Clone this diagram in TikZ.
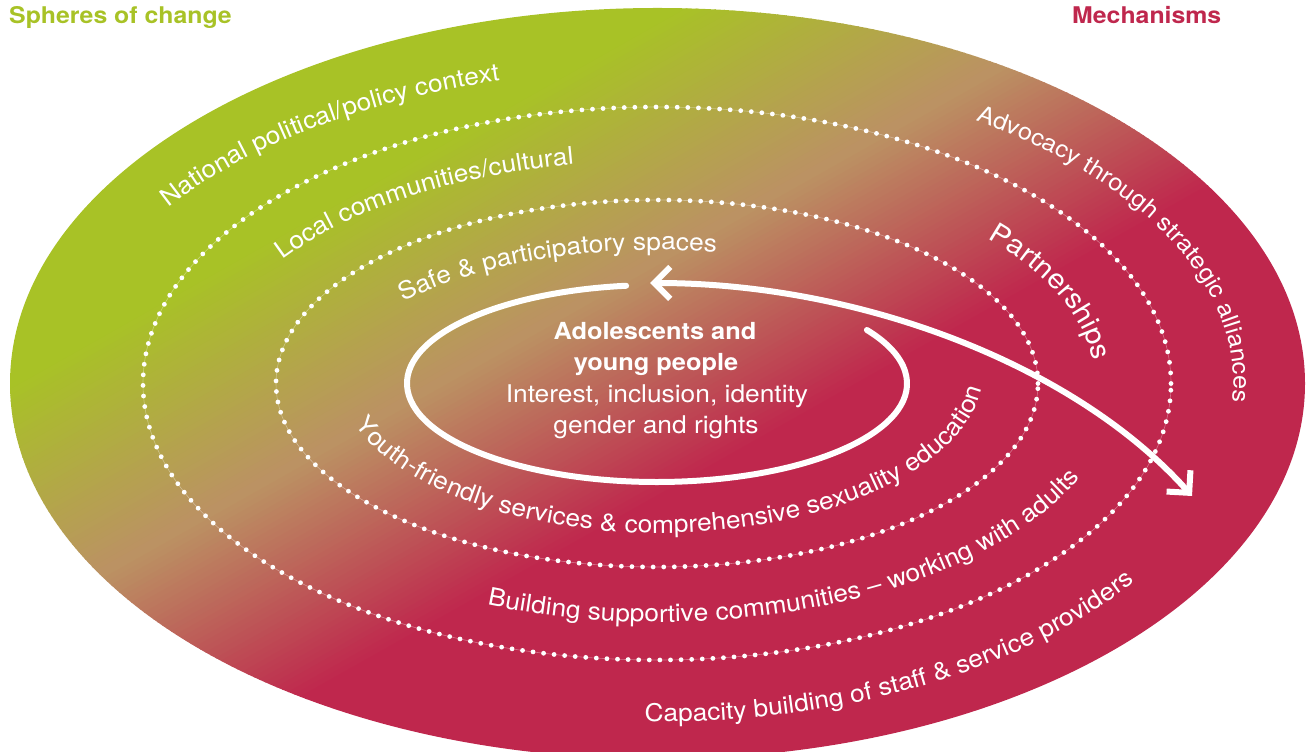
\documentclass[tikz,border=0pt]{standalone}
\usepackage{fontspec}
\usetikzlibrary{decorations.text,arrows.meta}
\newfontfamily\regfont{TeX Gyre Heros}[FakeStretch=1.08]
\definecolor{sgreen}{RGB}{168,194,38}
\definecolor{crim}{RGB}{191,39,77}
\definecolor{midtan}{RGB}{187,146,99}
\newcommand\cfont{\color{white}\regfont\fontsize{24.4pt}{28pt}\selectfont}
\newcommand\afont{\color{white}\regfont\fontsize{23.4pt}{28pt}\selectfont}
\newcommand\pfont{\color{white}\regfont\fontsize{27.5pt}{32pt}\selectfont}
\begin{document}
\begin{tikzpicture}[x=1pt,y=1pt,
  dotring/.style={white, line width=4.8pt, line cap=round, dash pattern=on 0pt off 10.6pt},
  thinring/.style={white, opacity=0.35, line width=0.6pt},
  curved/.style={decorate, decoration={text along path, text={#1}}},
  titletext/.style={anchor=base west, inner sep=0pt, font=\regfont\bfseries\fontsize{23pt}{26pt}\selectfont},
  ctext/.style={anchor=base, inner sep=0pt, text=white}
]
\useasboundingbox (0,0) rectangle (1309,752);

% gradient-filled outer ellipse
\begin{scope}
\clip (657.5,368.5) ellipse [x radius=647.5pt, y radius=375.5pt];
\begin{scope}[shift={(269.5,273.5)}, rotate=-60.6]
\fill[sgreen] (-2000,-2000) rectangle (-209,2000);
\fill[crim] (209,-2000) rectangle (2000,2000);
\foreach \k in {0,...,41}{
  \pgfmathsetmacro{\p}{\k*100/41}
  \pgfmathsetmacro{\xa}{-210+\k*5}
  \fill[midtan!\p!sgreen] (\xa,-2000) rectangle ++(5.8,4000);
}
\foreach \k in {0,...,41}{
  \pgfmathsetmacro{\p}{\k*100/41}
  \pgfmathsetmacro{\xa}{\k*5}
  \fill[crim!\p!midtan] (\xa,-2000) rectangle ++(5.8,4000);
}
\end{scope}
\end{scope}

% dotted rings
\draw[thinring] (657,368.5) ellipse [x radius=514pt, y radius=276.5pt];
\draw[dotring] (657,368.5) ellipse [x radius=514pt, y radius=276.5pt];
\draw[thinring] (657,368.5) ellipse [x radius=381pt, y radius=183.5pt];
\draw[dotring] (657,368.5) ellipse [x radius=381pt, y radius=183.5pt];

% inner white ring (open at top)
\draw[white, line width=6pt, line cap=round]
  ([shift={(97.1:250pt and 98.5pt)}]657,368.5)
  arc[start angle=97.1, end angle=392.9, x radius=250pt, y radius=98.5pt];

% double arrow
\coordinate (arrL) at (650,469);
\coordinate (arrR) at (1192,256);
\draw[white, line width=6pt, {Straight Barb[length=16pt,width=32pt]}-{Straight Barb[length=16pt,width=32pt]}]
  (arrL) .. controls (860,469) and (1075,387) .. (arrR);

% curved labels
\path[curved={|\cfont|National political/policy context}]
  ([shift={(146.2:589pt and 313pt)}]658,370)
  arc[start angle=146.2, end angle=60, x radius=589pt, y radius=313pt];
\path[curved={|\cfont|Local communities/cultural}]
  ([shift={(146.6:450pt and 222pt)}]658,370)
  arc[start angle=146.6, end angle=60, x radius=450pt, y radius=222pt];
\path[curved={|\cfont|Safe {\&} participatory spaces}]
  ([shift={(142.7:320pt and 132pt)}]658,370)
  arc[start angle=142.7, end angle=40, x radius=320pt, y radius=132pt];
\path[curved={|\cfont|Youth-friendly services {\&} comprehensive sexuality education}]
  ([shift={(199.5:324pt and 163pt)}]660,382)
  arc[start angle=199.5, end angle=375, x radius=324pt, y radius=163pt];
\path[curved={|\cfont|Building supportive communities – working with adults}]
  ([shift={(248.2:460pt and 240pt)}]658,370)
  arc[start angle=248.2, end angle=365, x radius=460pt, y radius=240pt];
\path[curved={|\cfont|Capacity building of staff {\&} service providers}]
  ([shift={(268.7:589pt and 340pt)}]658,370)
  arc[start angle=268.7, end angle=355, x radius=589pt, y radius=340pt];
\path[curved={|\afont|Advocacy through strategic alliances}]
  ([shift={(56.5:575.5pt and 313.7pt)}]658,370)
  arc[start angle=56.5, end angle=-15, x radius=575.5pt, y radius=313.7pt];
\path[curved={|\pfont|Partnerships}]
  ([shift={(41:437pt and 219pt)}]658,370)
  arc[start angle=41, end angle=-20, x radius=437pt, y radius=219pt];

% centre text
\node[ctext, font=\regfont\bfseries\fontsize{23.5pt}{26pt}\selectfont] (ayp1) at (655,412) {Adolescents and};
\node[ctext, font=\regfont\bfseries\fontsize{23.5pt}{26pt}\selectfont] (ayp2) at (656,381) {young people};
\node[ctext, font=\regfont\fontsize{24.4pt}{28pt}\selectfont] (ayp3) at (657,349) {Interest, inclusion, identity};
\node[ctext, font=\regfont\fontsize{24.4pt}{28pt}\selectfont] (ayp4) at (656,318) {gender and rights};

% titles
\node[titletext, text=sgreen] (spheres) at (9,728) {Spheres of change};
\node[titletext, text=crim] (mech) at (1072,728) {Mechanisms};
\end{tikzpicture}
\end{document}
